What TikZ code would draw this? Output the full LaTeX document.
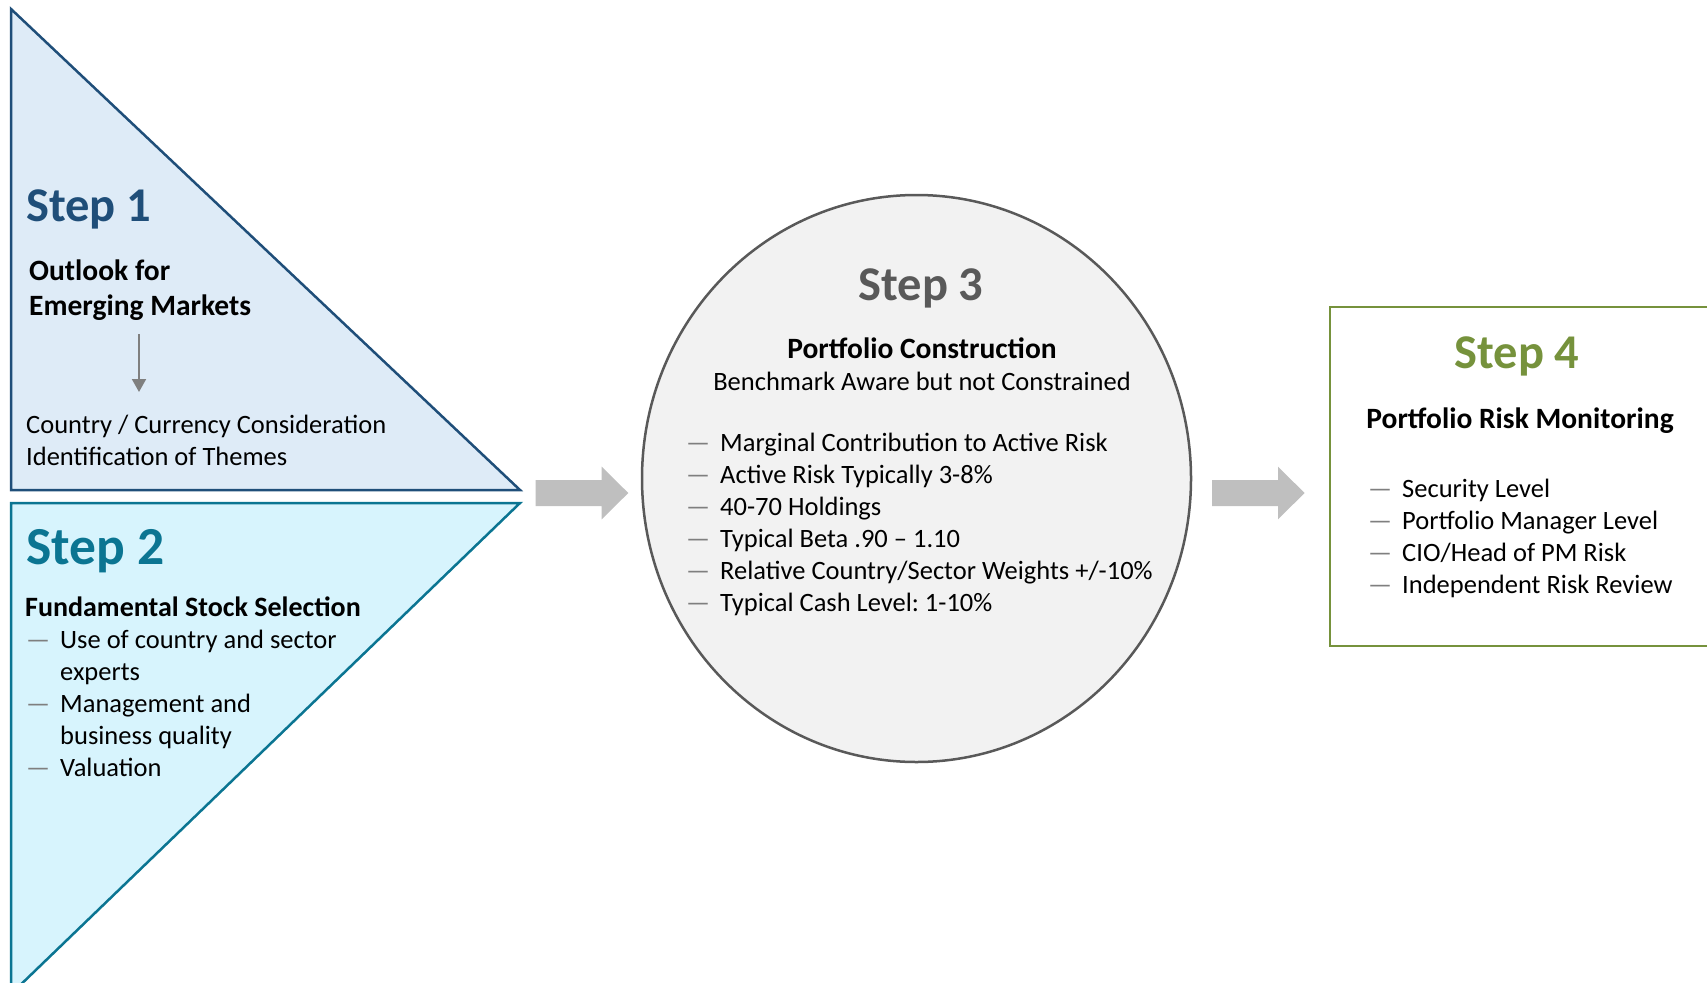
\documentclass[tikz,border=0pt]{standalone}
\usepackage{fontspec}
\setmainfont{Carlito}
\frenchspacing
\usetikzlibrary{arrows.meta,shapes.geometric,positioning}

\definecolor{stepone}{HTML}{1F4E79}
\definecolor{steponefill}{HTML}{DEEBF7}
\definecolor{steptwo}{HTML}{0B7592}
\definecolor{steptwofill}{HTML}{D7F4FD}
\definecolor{stepthree}{HTML}{595959}
\definecolor{stepthreefill}{HTML}{F2F2F2}
\definecolor{stepfour}{HTML}{76923C}
\definecolor{flowgray}{HTML}{BFBFBF}
\definecolor{dashgray}{HTML}{7F7F7F}

% dash in front of a list item
\newcommand{\bul}{\makebox[34pt][l]{\textcolor{dashgray}{—}}}

\tikzset{
%Define standard arrow tip
>={Triangle[length=13pt,width=14pt]},
%Define styles for the texts
step title/.style={font=\fontsize{48.5}{58}\selectfont\bfseries, inner sep=0pt},
heading/.style={font=\fontsize{29.5}{35}\selectfont\bfseries, inner sep=0pt},
body/.style={font=\fontsize{26.5}{32}\selectfont, inner sep=0pt},
%Define styles for the shapes
step one shape/.style={draw=stepone, fill=steponefill, line width=2.5pt},
step two shape/.style={draw=steptwo, fill=steptwofill, line width=2.5pt},
step four shape/.style={draw=stepfour, line width=2.5pt},
down arrow/.style={->, draw=dashgray, fill=dashgray, line width=2pt},
flow arrow/.pic={
  \fill[flowgray] (0,-13) -- (66,-13) -- (66,-26.3) -- (92.6,0)
    -- (66,26.3) -- (66,13) -- (0,13) -- cycle;},
}

\begin{document}
\begin{tikzpicture}[x=1pt,y=-1pt]
    \useasboundingbox (0,0) rectangle (1707,982);

    % Corners of the two triangles and of the last box
    \path
    coordinate (t1top) at (11,9)
    coordinate (t1bot) at (11,490)
    coordinate (t1tip) at (520,490)
    coordinate (t2top) at (11,503)
    coordinate (t2tip) at (520,503)
    coordinate (t2bot) at (11,994)
    coordinate (boxnw) at (1330,307)
    coordinate (boxse) at (1745,646);

    \draw[step one shape] (t1top) -- (t1bot) -- (t1tip) -- cycle;
    \draw[step two shape] (t2top) -- (t2tip) -- (t2bot) -- cycle;
    \node[ellipse, draw=stepthree, fill=stepthreefill, line width=2.5pt,
      minimum width=549pt, minimum height=567pt, inner sep=0pt] (step3) at (916.5,478.5) {};
    \draw[step four shape] (boxnw) rectangle (boxse);

    % Arrows between the steps
    \pic (flow1) at (535.7,493) {flow arrow};
    \pic (flow2) at (1212,493) {flow arrow};

    % Step 1
    \node[step title, text=stepone, anchor=base west] (s1) at (26,221) {Step 1};
    \node[heading, anchor=base west] (s1h1) at (29,280) {Outlook for};
    \node[heading, anchor=base west] (s1h2) at (29,315) {Emerging Markets};
    \coordinate (s1from) at (139,334);
    \coordinate (s1to) at (139,392);
    \draw[down arrow] (s1from) -- (s1to);
    \node[body, anchor=base west] (s1t1) at (26,433) {Country / Currency Consideration};
    \node[body, anchor=base west] (s1t2) at (26,465) {Identification of Themes};

    % Step 2
    \node[step title, font=\fontsize{53.5}{64}\selectfont\bfseries, text=steptwo, anchor=base west] (s2) at (26,564) {Step 2};
    \node[heading, font=\fontsize{28}{34}\selectfont\bfseries, anchor=base west] (s2h) at (25,616) {Fundamental Stock Selection};
    \node[body, anchor=base west] (s2b1) at (26,648) {\bul Use of country and sector};
    \node[body, anchor=base west] (s2b1x) at (60,680) {experts};
    \node[body, anchor=base west] (s2b2) at (26,712) {\bul Management and};
    \node[body, anchor=base west] (s2b2x) at (60,744) {business quality};
    \node[body, anchor=base west] (s2b3) at (26,776) {\bul Valuation};

    % Step 3
    \node[step title, text=stepthree, anchor=base] (s3) at (921,300) {Step 3};
    \node[heading, anchor=base] (s3h) at (922,358) {Portfolio Construction};
    \node[body, anchor=base] (s3s) at (922,390) {Benchmark Aware but not Constrained};
    \node[body, anchor=base west] (s3b1) at (686,451) {\bul Marginal Contribution to Active Risk};
    \node[body, anchor=base west] (s3b2) at (686,483) {\bul Active Risk Typically 3-8\%};
    \node[body, anchor=base west] (s3b3) at (686,515) {\bul 40-70 Holdings};
    \node[body, anchor=base west] (s3b4) at (686,547) {\bul Typical Beta .90 – 1.10};
    \node[body, anchor=base west] (s3b5) at (686,579) {\bul Relative Country/Sector Weights +/-10\%};
    \node[body, anchor=base west] (s3b6) at (686,611) {\bul Typical Cash Level: 1-10\%};

    % Step 4
    \node[step title, text=stepfour, anchor=base] (s4) at (1517,368) {Step 4};
    \node[heading, anchor=base] (s4h) at (1520,428) {Portfolio Risk Monitoring};
    \node[body, anchor=base west] (s4b1) at (1368,497) {\bul Security Level};
    \node[body, anchor=base west] (s4b2) at (1368,529) {\bul Portfolio Manager Level};
    \node[body, anchor=base west] (s4b3) at (1368,561) {\bul CIO/Head of PM Risk};
    \node[body, anchor=base west] (s4b4) at (1368,593) {\bul Independent Risk Review};
\end{tikzpicture}
\end{document}
